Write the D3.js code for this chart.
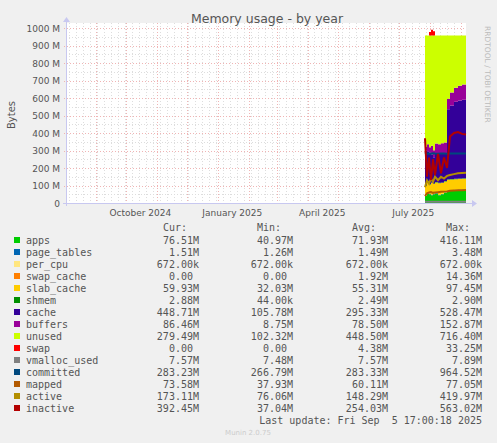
<!DOCTYPE html>
<html><head><meta charset="utf-8">
<script src="https://cdn.jsdelivr.net/npm/d3@7"></script>
<style>body{margin:0;background:#f0f0f0}</style>
</head><body><svg id="chart" width="497" height="443"></svg>
<script>
// sample dates (days before last update) and memory values in MB
const endDate = new Date(2025, 8, 5, 17);
const daysBefore = [41, 39, 37, 35, 33, 31, 28, 25, 22, 19, 16, 12, 8, 4, 0];
const apps        = [45, 40, 55, 50, 45, 50, 55, 45, 50, 60, 70, 72, 74, 75, 76.5];
const pageTables  = [1.5, 1.5, 1.5, 1.5, 1.5, 1.5, 1.5, 1.5, 1.5, 1.5, 1.5, 1.5, 1.5, 1.5, 1.5];
const perCpu      = [0.67, 0.67, 0.67, 0.67, 0.67, 0.67, 0.67, 0.67, 0.67, 0.67, 0.67, 0.67, 0.67, 0.67, 0.67];
const swapCache   = [14, 10, 5, 3, 2, 1, 0, 0, 0, 0, 0, 0, 0, 0, 0];
const slabCache   = [40, 45, 60, 50, 65, 55, 60, 65, 62, 60, 60, 60, 60, 60, 60];
const shmem       = [2.9, 2.9, 2.9, 2.9, 2.9, 2.9, 2.9, 2.9, 2.9, 2.9, 2.9, 2.9, 2.9, 2.9, 2.9];
const cache       = [560, 200, 170, 180, 160, 150, 160, 170, 165, 160, 400, 420, 440, 445, 449];
const buffers     = [10, 20, 40, 30, 50, 40, 60, 50, 60, 60, 60, 75, 80, 85, 86.5];
const totalMem    = 957;
const swap        = [0, 0, 0, 20, 33, 25, 0, 0, 0, 0, 0, 0, 0, 0, 0];
const vmalloc     = [7.5, 7.5, 7.5, 7.5, 7.5, 7.5, 7.5, 7.5, 7.5, 7.5, 7.5, 7.6, 7.6, 7.6, 7.6];
const committed   = [290, 280, 283, 282, 284, 283, 282, 283, 283, 282, 283, 283, 283, 283, 283];
const mapped      = [40, 55, 60, 62, 58, 60, 62, 64, 65, 66, 70, 72, 73, 73, 73.6];
const active      = [90, 130, 110, 140, 120, 150, 130, 150, 140, 155, 160, 165, 170, 172, 173];
const inactive    = [370, 150, 260, 130, 250, 160, 280, 170, 260, 200, 380, 400, 405, 395, 392];

const yTicks = [0, 100, 200, 300, 400, 500, 600, 700, 800, 900, 1000];
const monthLabels = [[2024, 9, "October 2024"], [2025, 0, "January 2025"], [2025, 3, "April 2025"], [2025, 6, "July 2025"]];

const legendRows = [
  ["apps", "#00cc00", "76.51M", "40.97M", "71.93M", "416.11M"],
  ["page_tables", "#0066b3", "1.51M", "1.26M", "1.49M", "3.48M"],
  ["per_cpu", "#ffe680", "672.00k", "672.00k", "672.00k", "672.00k"],
  ["swap_cache", "#ff8000", "0.00", "0.00", "1.92M", "14.36M"],
  ["slab_cache", "#ffcc00", "59.93M", "32.03M", "55.31M", "97.45M"],
  ["shmem", "#008f00", "2.88M", "44.00k", "2.49M", "2.90M"],
  ["cache", "#330099", "448.71M", "105.78M", "295.33M", "528.47M"],
  ["buffers", "#990099", "86.46M", "8.75M", "78.50M", "152.87M"],
  ["unused", "#ccff00", "279.49M", "102.32M", "448.50M", "716.40M"],
  ["swap", "#ff0000", "0.00", "0.00", "4.38M", "33.25M"],
  ["vmalloc_used", "#808080", "7.57M", "7.48M", "7.57M", "7.89M"],
  ["committed", "#00487d", "283.23M", "266.79M", "283.33M", "964.52M"],
  ["mapped", "#b35a00", "73.58M", "37.93M", "60.11M", "77.05M"],
  ["active", "#b38f00", "173.11M", "76.06M", "148.29M", "419.97M"],
  ["inactive", "#b30000", "392.45M", "37.04M", "254.03M", "563.02M"]
];

const svg = d3.select("#chart");
const L = 66, R = 466, T = 28, B = 203;
const x = d3.scaleTime().domain([d3.timeDay.offset(endDate, -400), endDate]).range([L, R]);
const y = d3.scaleLinear().domain([0, 1000]).range([B, T]);

svg.append("rect").attr("x", L).attr("y", T - 5).attr("width", R - L).attr("height", B - T + 5).attr("fill", "#fff");

// minor grid
svg.append("g").selectAll("line").data(d3.timeMonday.range(x.domain()[0], x.domain()[1]))
  .join("line").attr("x1", d => Math.round(x(d)) + 0.5).attr("x2", d => Math.round(x(d)) + 0.5)
  .attr("y1", T - 5).attr("y2", B).attr("stroke", "#ddd").attr("stroke-dasharray", "1,2");
svg.append("g").selectAll("line").data(d3.range(50, 1000, 100))
  .join("line").attr("x1", L).attr("x2", R).attr("y1", d => Math.round(y(d)) + 0.5).attr("y2", d => Math.round(y(d)) + 0.5)
  .attr("stroke", "#ddd").attr("stroke-dasharray", "1,2");
// major grid
svg.append("g").selectAll("line").data(d3.timeMonth.range(x.domain()[0], x.domain()[1]))
  .join("line").attr("x1", d => Math.round(x(d)) + 0.5).attr("x2", d => Math.round(x(d)) + 0.5)
  .attr("y1", T - 5).attr("y2", B + 2).attr("stroke", "#f0b4b4").attr("stroke-dasharray", "1,2");
svg.append("g").selectAll("line").data(yTicks.slice(1))
  .join("line").attr("x1", L - 2).attr("x2", R).attr("y1", d => Math.round(y(d)) + 0.5).attr("y2", d => Math.round(y(d)) + 0.5)
  .attr("stroke", "#f0b4b4").attr("stroke-dasharray", "1,2");

// stacked areas
const data = daysBefore.map((d, i) => {
  const used = apps[i] + pageTables[i] + perCpu[i] + swapCache[i] + slabCache[i] + shmem[i] + cache[i] + buffers[i];
  return { t: d3.timeDay.offset(endDate, -d), apps: apps[i], page_tables: pageTables[i], per_cpu: perCpu[i],
    swap_cache: swapCache[i], slab_cache: slabCache[i], shmem: shmem[i], cache: cache[i], buffers: buffers[i],
    unused: totalMem - used, swap: swap[i] };
});
const keys = legendRows.slice(0, 10).map(r => r[0]);
const colorOf = Object.fromEntries(legendRows.map(r => [r[0], r[1]]));
const series = d3.stack().keys(keys)(data);
const area = d3.area().x(d => x(d.data.t)).y0(d => y(d[0])).y1(d => y(d[1])).curve(d3.curveStepBefore);
svg.append("g").selectAll("path").data(series).join("path")
  .attr("d", area).attr("fill", d => colorOf[d.key]);

// lines
const lineSets = [["vmalloc_used", vmalloc], ["committed", committed], ["mapped", mapped], ["active", active], ["inactive", inactive]];
const line = d3.line().x((d, i) => x(data[i].t)).y(d => y(d));
lineSets.forEach(([k, v]) => {
  svg.append("path").attr("d", line(v)).attr("fill", "none").attr("stroke", colorOf[k]).attr("stroke-width", 2);
});

// axes lines and arrows
svg.append("line").attr("x1", L - 3).attr("x2", R + 6).attr("y1", B + 0.5).attr("y2", B + 0.5).attr("stroke", "#c8c8f0");
svg.append("line").attr("x1", L + 0.5).attr("x2", L + 0.5).attr("y1", B + 3).attr("y2", T - 6).attr("stroke", "#c8c8f0");
svg.append("path").attr("d", `M${R + 6},${B - 3}L${R + 11},${B + 0.5}L${R + 6},${B + 4}Z`).attr("fill", "#c8c8f0");
svg.append("path").attr("d", `M${L - 3},${T - 6}L${L + 0.5},${T - 11}L${L + 4},${T - 6}Z`).attr("fill", "#c8c8f0");

const font = "DejaVu Sans, sans-serif";
svg.append("g").selectAll("text").data(yTicks).join("text")
  .attr("x", L - 6).attr("y", d => y(d) + 3.5).attr("text-anchor", "end")
  .attr("font-family", font).attr("font-size", 9).attr("fill", "#555")
  .text(d => d === 0 ? "0" : d + " M");
svg.append("g").selectAll("text").data(monthLabels).join("text")
  .attr("x", d => x(new Date(d[0], d[1], 15))).attr("y", B + 13).attr("text-anchor", "middle")
  .attr("font-family", font).attr("font-size", 9).attr("fill", "#555").text(d => d[2]);

svg.append("text").attr("x", 267).attr("y", 23).attr("text-anchor", "middle")
  .attr("font-family", font).attr("font-size", 12.5).attr("fill", "#555").text("Memory usage - by year");
svg.append("text").attr("transform", "translate(15,115) rotate(-90)").attr("text-anchor", "middle")
  .attr("font-family", font).attr("font-size", 10).attr("fill", "#555").text("Bytes");
svg.append("text").attr("transform", "translate(485,26) rotate(90)")
  .attr("font-family", font).attr("font-size", 7.5).attr("fill", "#bbb").text("RRDTOOL / TOBI OETIKER");

// legend
const mono = "DejaVu Sans Mono, monospace";
const colX = [199, 293, 388, 482];
const leg = svg.append("g").attr("font-family", mono).attr("font-size", 10).attr("fill", "#555");
["Cur:", "Min:", "Avg:", "Max:"].forEach((h, j) => {
  leg.append("text").attr("x", colX[j] - 12).attr("y", 231).attr("text-anchor", "end").text(h);
});
legendRows.forEach((r, i) => {
  const yy = 244 + i * 12;
  leg.append("rect").attr("x", 14).attr("y", yy - 7).attr("width", 6).attr("height", 6).attr("fill", r[1]);
  leg.append("text").attr("x", 26).attr("y", yy).text(r[0]);
  r.slice(2).forEach((v, j) => {
    const ex = v.endsWith("M") || v.endsWith("k") ? colX[j] : colX[j] - 6;
    leg.append("text").attr("x", ex).attr("y", yy).attr("text-anchor", "end").text(v);
  });
});
leg.append("text").attr("x", 482).attr("y", 424).attr("text-anchor", "end").text("Last update: Fri Sep  5 17:00:18 2025").attr("xml:space", "preserve");
svg.append("text").attr("x", 248).attr("y", 435).attr("text-anchor", "middle")
  .attr("font-family", font).attr("font-size", 7).attr("fill", "#ccc").text("Munin 2.0.75");
</script></body></html>
